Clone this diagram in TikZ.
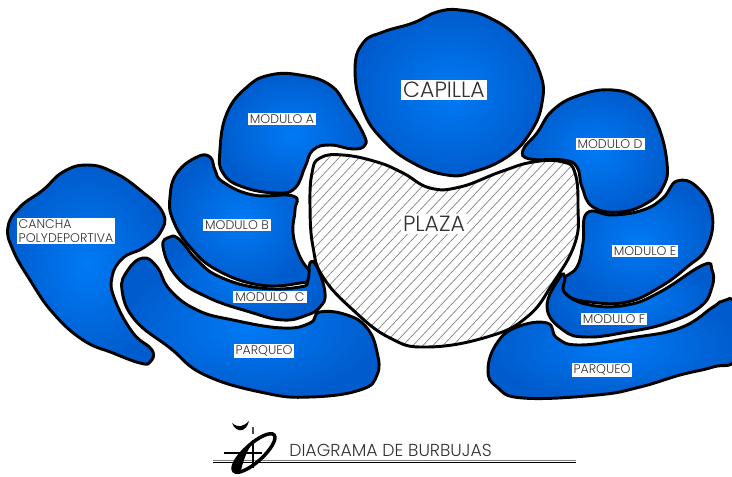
\documentclass[tikz,border=0pt]{standalone}
\usepackage{fontspec}
\setmainfont{Poppins}[UprightFont=* Light]
\definecolor{bubblemid}{RGB}{0,122,245}
\definecolor{bubbleedge}{RGB}{0,92,205}
\definecolor{labelink}{RGB}{50,50,50}
\tikzset{
    bubble/.style={draw=black, line width=2.2pt, inner color=bubblemid, outer color=bubbleedge},
    tag/.style={fill=white, text=labelink, inner xsep=1.5pt, inner ysep=1.5pt, align=center, font=\fontsize{9.4}{10.5}\selectfont},
    bigtag/.style={tag, font=\fontsize{16.5}{18}\selectfont}
}
\begin{document}
\begin{tikzpicture}[x=0.75pt, y=-0.75pt]
    \useasboundingbox (0,0) rectangle (732,476);
    \draw [bubble] plot [smooth cycle, tension=0.75] coordinates {(355,70) (363,43) (383,32) (413,23) (437,12) (460,10) (490,18) (520,40) (540,73) (542,103) (530,133) (507,157) (473,172) (447,175) (413,163) (383,140) (363,110)};
    \draw [bubble] plot [smooth cycle, tension=0.75] coordinates {(220,150) (227,113) (247,87) (270,75) (300,75) (330,85) (347,107) (363,133) (365,145) (353,149) (330,145) (313,150) (305,167) (295,188) (277,193) (243,187) (223,173)};
    \draw [bubble] plot [smooth cycle, tension=0.75] coordinates {(170,197) (177,173) (197,157) (210,157) (215,170) (223,182) (253,195) (293,196) (295,210) (293,233) (300,257) (312,277) (300,283) (260,285) (217,270) (190,247) (173,220)};
    \draw [bubble] plot [smooth cycle, tension=0.75] coordinates {(163,247) (170,237) (180,240) (197,260) (220,277) (260,288) (300,287) (308,280) (310,263) (317,267) (325,293) (320,307) (307,315) (283,320) (250,312) (207,297) (177,277)};
    \draw [bubble] plot [smooth cycle, tension=0.75] coordinates {(122,290) (128,270) (143,258) (157,267) (170,290) (197,310) (233,320) (283,328) (310,323) (320,312) (347,315) (367,328) (377,352) (377,375) (360,390) (310,397) (265,393) (205,375) (170,348) (135,320)};
    \draw [bubble] plot [smooth cycle, tension=0.75] coordinates {(8,227) (20,207) (43,190) (63,172) (87,165) (113,172) (140,190) (163,213) (160,233) (143,248) (123,258) (112,277) (115,300) (133,333) (152,350) (150,362) (140,363) (113,353) (83,340) (53,313) (30,280) (13,250)};
    \draw [bubble] plot [smooth cycle, tension=0.75] coordinates {(523,150) (537,133) (553,110) (580,95) (613,90) (640,100) (657,123) (667,163) (663,187) (647,203) (620,212) (593,207) (582,187) (577,167) (563,160) (530,159)};
    \draw [bubble] plot [smooth cycle, tension=0.75] coordinates {(587,213) (613,215) (643,210) (663,198) (677,181) (697,187) (712,213) (707,247) (687,267) (660,287) (627,302) (590,302) (567,295) (563,280) (577,267) (583,243)};
    \draw [bubble] plot [smooth cycle, tension=0.75] coordinates {(547,307) (560,277) (565,278) (565,293) (590,305) (627,305) (660,292) (703,265) (712,270) (712,287) (700,307) (667,323) (627,332) (587,337) (563,330)};
    \draw [bubble] plot [smooth cycle, tension=0.75] coordinates {(488,370) (497,343) (517,327) (547,323) (557,338) (580,345) (630,338) (680,328) (713,307) (723,301) (735,305) (736,357) (713,367) (680,375) (640,387) (597,395) (523,398) (497,387)};
    \draw [black, line width=2.2pt, fill=white, path picture={
        \foreach \hx in {60,70,...,600}
            \draw [black!50, line width=0.5pt] (\hx,370) -- (\hx+225,130);
    }] plot [smooth cycle, tension=0.75] coordinates {(312,173) (320,158) (343,155) (377,162) (403,173) (430,188) (460,187) (500,172) (533,162) (563,162) (575,173) (578,207) (575,243) (553,283) (527,317) (487,337) (427,347) (390,338) (353,310) (323,277) (313,247) (310,207)};
    \node [bigtag] (capilla) at (444,90) {CAPILLA};
    \node [bigtag] (plaza) at (434,224) {PLAZA};
    \node [tag] (moduloa) at (282,119) {MODULO A};
    \node [tag] (modulob) at (237,225) {MODULO B};
    \node [tag] (moduloc) at (270,297) {MODULO\ \ C};
    \node [tag] (parqueoa) at (264,351) {PARQUEO};
    \node [tag, align=left] (cancha) at (66,231) {CANCHA\\POLYDEPORTIVA};
    \node [tag] (modulod) at (610,144) {MODULO D};
    \node [tag] (moduloe) at (645,251) {MODULO E};
    \node [tag] (modulof) at (614,319) {MODULO F};
    \node [tag] (parqueob) at (602,370) {PARQUEO};
    \node [tag, anchor=west, fill=none, inner xsep=0pt, font=\fontsize{13}{14}\selectfont] (titulo) at (289,450) {DIAGRAMA DE BURBUJAS};
    \coordinate (ruleleft) at (213,460);
    \coordinate (ruleright) at (576,460);
    \coordinate (ruleleftb) at (213,462.5);
    \coordinate (rulerightb) at (576,462.5);
    \draw [black!50, line width=0.6pt] (ruleleft) -- (ruleright);
    \draw [black, line width=0.7pt] (ruleleftb) -- (rulerightb);
    \draw [black, line width=2.6pt, rotate around={42:(254,453)}] (254,453) ellipse [x radius=27, y radius=9];
    \fill [black] (233,472) .. controls (233,460) and (244,447) .. (252,444) .. controls (246,452) and (243,462) .. (240,474) -- cycle;
    \draw [black, line width=0.8pt] (224,453) -- (262,453);
    \draw [black, line width=0.8pt] (253,440) -- (253,468);
    \fill [black] (232,423) .. controls (238,428) and (243,427) .. (249,421) .. controls (246,433) and (236,433) .. (232,423);
    \fill [black!70] (252,427) rectangle (254,434);
\end{tikzpicture}
\end{document}
